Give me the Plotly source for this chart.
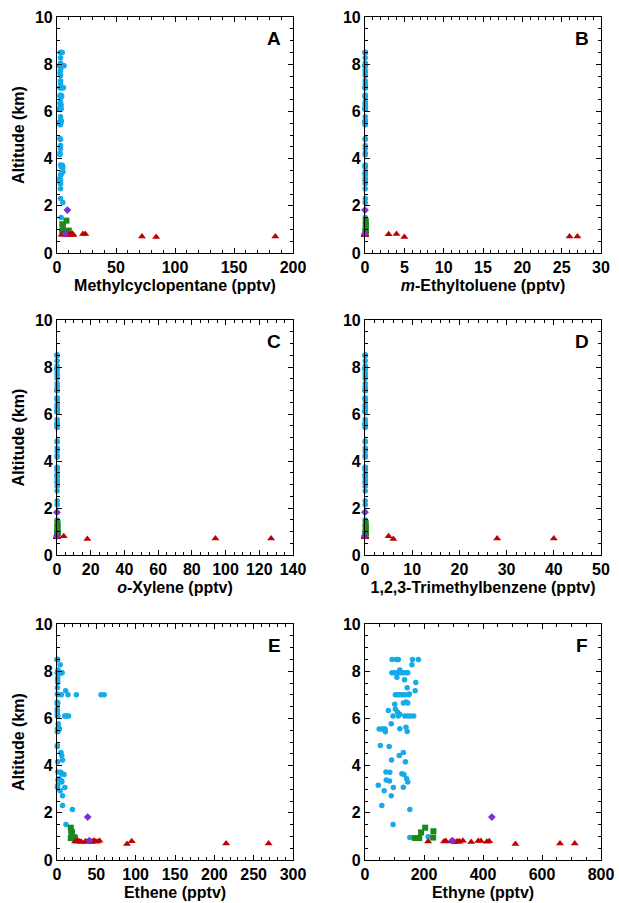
import plotly.graph_objects as go

# ---------------- data ----------------
blue_alt = [8.50, 8.50, 8.50, 8.50, 8.50, 8.27, 8.05, 7.93, 7.93, 7.93, 7.93, 7.93, 7.93, 7.93, 7.93,
            7.74, 7.64, 7.52, 7.30, 7.17, 7.00, 7.00, 7.00, 7.00, 7.00, 7.00, 7.03, 6.69, 6.65, 6.60,
            6.65, 6.40, 6.34, 6.27, 6.18, 6.10, 6.10, 6.10, 6.10, 6.10, 6.10, 5.77, 5.63, 5.56, 5.45,
            5.55, 5.55, 5.55, 5.55, 5.43, 4.85, 4.81, 4.55, 4.43, 4.24, 4.16, 3.73, 3.72, 3.65, 3.62,
            3.44, 3.30, 3.39, 3.35, 3.17, 3.07, 3.08, 2.93, 2.72, 2.31, 2.14, 1.50, 0.95, 0.98]
blue_F = [92, 107, 113, 161, 181, 159, 118, 91, 99, 107, 114, 122, 131, 139, 145,
          108, 134, 172, 143, 170, 103, 110, 118, 127, 136, 148, 150, 139, 130, 101,
          145, 103, 79, 110, 118, 95, 113, 135, 146, 155, 165, 89, 139, 118, 143,
          48, 57, 63, 68, 69, 52, 82, 130, 116, 90, 137, 71, 84, 125, 132,
          141, 145, 72, 83, 45, 96, 130, 65, 89, 57, 152, 95, 152, 214]
blue_E = [0.4, 0.5, 0.3, 0.6, 0.4, 4, 1.3, 0.4, 3.4, 5, 6.4, 1, 0.5, 2, 6,
          1, 0.6, 1, 0.5, 11, 1.3, 5.5, 14, 24.6, 56, 60, 0.5, 0.3, 0.5, 0.5,
          1, 0.3, 0.5, 0.4, 0.6, 0.3, 1.0, 9.7, 11.9, 13.0, 14.8, 1.5, 2, 0.5, 1.2,
          1.5, 2.5, 3, 0.8, 0.3, 0.4, 0.4, 5, 6, 7, 1, 1, 4.7, 6, 9,
          3, 6, 1.2, 6, 1, 10, 0.5, 4, 7, 7, 19.5, 11.4, 23, 23]
blue_A = [3, 4, 3.5, 4.5, 3, 3, 3, 2.5, 3, 4, 5, 6, 3, 2, 4.5,
          3, 2.5, 3, 3, 3, 3, 4, 4.5, 5.5, 3, 2.5, 3, 3, 4, 3.5,
          2.5, 3, 2.5, 3.5, 3, 2, 2.5, 3, 3.5, 2, 3, 3, 3.5, 2.5, 2.5,
          3, 3.5, 3, 2.5, 3, 2.5, 3, 3, 3, 2.5, 2.5, 3, 4.5, 3.5, 5,
          5, 3, 4, 3.5, 2.5, 2.5, 3, 3, 3, 3, 5, 3.5, 4, 5]
blue_B = [0.03] * len(blue_alt)
blue_C = [0.1] * len(blue_alt)
blue_D = [0.05] * len(blue_alt)

green_alt = [1.17, 1.37, 1.22, 0.95, 0.93, 0.93, 0.93]
green_F = [190, 204, 232, 231, 169, 177, 184]
green_E = [19, 17.5, 18, 22.5, 17.5, 19, 20.5]
green_A = [5, 8, 4.5, 10, 4.5, 6, 7]
green_B = [0.1] * 7
green_C = [0.3] * 7
green_D = [0.15] * 7

red_alt = [0.78, 0.78, 0.80, 0.78, 0.76, 0.78, 0.77, 0.78, 0.82, 0.76, 0.80, 0.80, 0.77, 0.79, 0.68, 0.70, 0.70]
red_F = [214, 268, 274, 291, 304, 312, 316, 321, 332, 360, 384, 393, 413, 421, 510, 661, 711]
red_E = [23, 24.6, 27, 29, 31, 36, 38, 41, 54, 44, 46, 48, 51, 95, 89, 215, 269]
red_A = [5, 6, 7, 8, 9, 10, 11, 12, 13, 14, 22, 24, 4, 6, 84, 72, 185]
red_B = [0, 0, 0, 0, 0, 0, 0, 0, 0, 0, 4, 0, 0, 3, 5, 26, 27]
red_C = [0, 0, 0, 0, 0, 0, 0, 0, 0, 0, 4, 0, 0, 0, 18, 94, 127]
red_D = [0, 0, 0, 0, 0, 0, 0, 0, 0, 0, 5, 0, 0, 0, 6, 28, 40]

purple_alt = [1.82, 0.82]
purple_F = [430, 296]
purple_E = [39, 41]
purple_A = [8.8, 7]
purple_B = [0, 0]
purple_C = [0, 0]
purple_D = [0, 0]

panel_letters = ["A", "B", "C", "D", "E", "F"]
x_titles = ["Methylcyclopentane (pptv)", "<i>m</i>-Ethyltoluene (pptv)", "<i>o</i>-Xylene (pptv)",
            "1,2,3-Trimethylbenzene (pptv)", "Ethene (pptv)", "Ethyne (pptv)"]
x_max = [200, 30, 140, 50, 300, 800]
x_dtick = [50, 5, 20, 10, 50, 200]
x_minor = [10, 1, 5, 2, 10, 50]
y_title = "Altitude (km)"

blues = [blue_A, blue_B, blue_C, blue_D, blue_E, blue_F]
greens = [green_A, green_B, green_C, green_D, green_E, green_F]
reds = [red_A, red_B, red_C, red_D, red_E, red_F]
purples = [purple_A, purple_B, purple_C, purple_D, purple_E, purple_F]

# ---------------- layout ----------------
W, H = 619, 903
col_dom = [[57 / W, 293 / W], [365 / W, 601 / W]]
row_dom = [[1 - 253 / H, 1 - 17 / H], [1 - 555 / H, 1 - 320 / H], [1 - 860 / H, 1 - 624 / H]]

FONT = "Liberation Sans, Arial, sans-serif"
fig = go.Figure()
layout = dict(width=W, height=H, margin=dict(l=0, r=0, t=0, b=0, pad=0, autoexpand=False),
              paper_bgcolor="white", plot_bgcolor="white", showlegend=False,
              font=dict(family=FONT, color="black"), annotations=[])

for i in range(6):
    r, c = divmod(i, 2)
    xa = "x" if i == 0 else f"x{i+1}"
    ya = "y" if i == 0 else f"y{i+1}"
    common = dict(cliponaxis=False, mode="markers", xaxis=xa, yaxis=ya, hoverinfo="skip")
    fig.add_trace(go.Scatter(x=blues[i], y=blue_alt, marker=dict(symbol="circle", size=5.5, color="#16AAE8"), **common))
    fig.add_trace(go.Scatter(x=greens[i], y=green_alt, marker=dict(symbol="square", size=6, color="#1A8A1A"), **common))
    fig.add_trace(go.Scatter(x=reds[i], y=red_alt, marker=dict(symbol="triangle-up", size=7, color="#C00000"), **common))
    fig.add_trace(go.Scatter(x=purples[i], y=purple_alt, marker=dict(symbol="diamond", size=6, color="#7B2FD6"), **common))

    axbase = dict(showline=True, linecolor="black", linewidth=1.2, mirror="allticks",
                  ticks="inside", ticklen=5, tickwidth=1, tickcolor="black",
                  showgrid=False, zeroline=False, automargin=False,
                  tickfont=dict(family=FONT, size=16, color="black", weight="bold"))
    layout["xaxis" if i == 0 else f"xaxis{i+1}"] = dict(
        axbase, domain=col_dom[c], anchor=ya, range=[0, x_max[i]], dtick=x_dtick[i], tick0=0,
        minor=dict(ticks="inside", ticklen=3, dtick=x_minor[i], tickcolor="black", tickwidth=1, showgrid=False),
        title=dict(text=x_titles[i], font=dict(family=FONT, size=16, color="black", weight="bold"), standoff=4))
    layout["yaxis" if i == 0 else f"yaxis{i+1}"] = dict(
        axbase, domain=row_dom[r], anchor=xa, range=[0, 10], dtick=2, tick0=0,
        minor=dict(ticks="inside", ticklen=3, dtick=0.5, tickcolor="black", tickwidth=1, showgrid=False),
        title=dict(text=y_title if c == 0 else "", font=dict(family=FONT, size=16, color="black", weight="bold"), standoff=6))
    layout["annotations"].append(dict(
        text=panel_letters[i], xref=f"{xa} domain", yref=f"{ya} domain", x=0.92, y=0.91,
        showarrow=False, xanchor="center", yanchor="middle",
        font=dict(family=FONT, size=19, color="black", weight="bold")))

fig.update_layout(**layout)
fig.write_html("out.html")
